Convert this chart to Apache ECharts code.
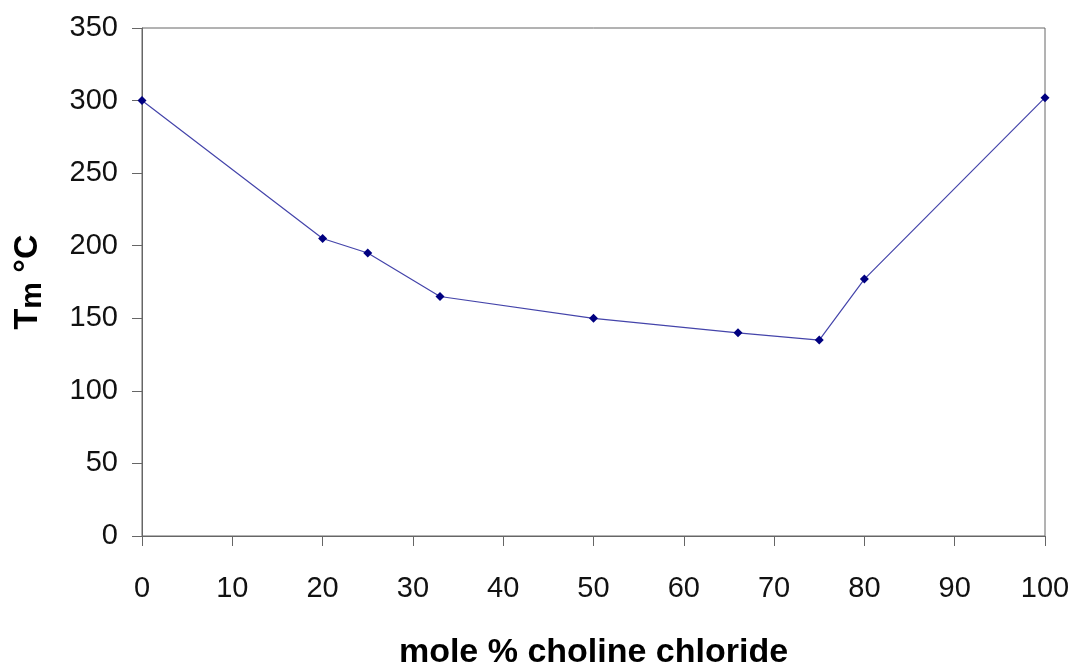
<!DOCTYPE html>
<html>
<head>
<meta charset="utf-8">
<script src="https://cdn.jsdelivr.net/npm/echarts@6/dist/echarts.min.js"></script>
<style>
html,body{margin:0;padding:0;background:#fff;}
#chart{width:1071px;height:665px;}
</style>
</head>
<body>
<div id="chart"></div>
<script>
const molePercent = [0, 20, 25, 33, 50, 66, 75, 80, 100];
const meltingTemp = [300, 205, 195, 165, 150, 140, 135, 177, 302];
const xTitle = 'mole % choline chloride';

const chart = echarts.init(document.getElementById('chart'));
const font = '"Liberation Sans", Arial, sans-serif';
chart.setOption({
  animation: false,
  backgroundColor: '#ffffff',
  grid: {left: 142, right: 26, top: 28, bottom: 129, outerBoundsMode: 'none', containLabel: false, show: true, borderColor: '#666', borderWidth: 1, backgroundColor: 'transparent'},
  xAxis: {
    type: 'value', min: 0, max: 100, interval: 10,
    name: xTitle, nameLocation: 'middle', nameGap: 100,
    nameTextStyle: {fontFamily: font, fontWeight: 'bold', fontSize: 34, color: '#000'},
    axisLine: {show: true, lineStyle: {color: '#666', width: 1}},
    axisTick: {show: true, inside: false, length: 10, lineStyle: {color: '#666'}},
    axisLabel: {fontFamily: font, fontSize: 29, color: '#111', margin: 38},
    splitLine: {show: false}
  },
  yAxis: {
    type: 'value', min: 0, max: 350, interval: 50,
    name: '{t|T}{m|m}{sp| }{d|°C}', nameLocation: 'middle', nameGap: 94, nameRotate: 90,
    nameTextStyle: {
      fontFamily: font, fontWeight: 'bold', fontSize: 34, color: '#000',
      rich: {
        t: {fontFamily: font, fontWeight: 'bold', fontSize: 34, color: '#000'},
        m: {fontFamily: font, fontWeight: 'bold', fontSize: 30, color: '#000', padding: [10, 0, 0, 0]},
        sp: {fontFamily: font, fontWeight: 'bold', fontSize: 34},
        d: {fontFamily: font, fontWeight: 'bold', fontSize: 34, color: '#000'}
      }
    },
    axisLine: {show: true, lineStyle: {color: '#666', width: 1}},
    axisTick: {show: true, inside: false, length: 10, lineStyle: {color: '#666'}},
    axisLabel: {fontFamily: font, fontSize: 29, color: '#111', margin: 24},
    splitLine: {show: false}
  },
  series: [{
    type: 'line',
    data: molePercent.map((x, i) => [x, meltingTemp[i]]),
    symbol: 'diamond', symbolSize: 9,
    itemStyle: {color: '#000080'},
    lineStyle: {color: '#4444aa', width: 1.2}
  }]
});
</script>
</body>
</html>
